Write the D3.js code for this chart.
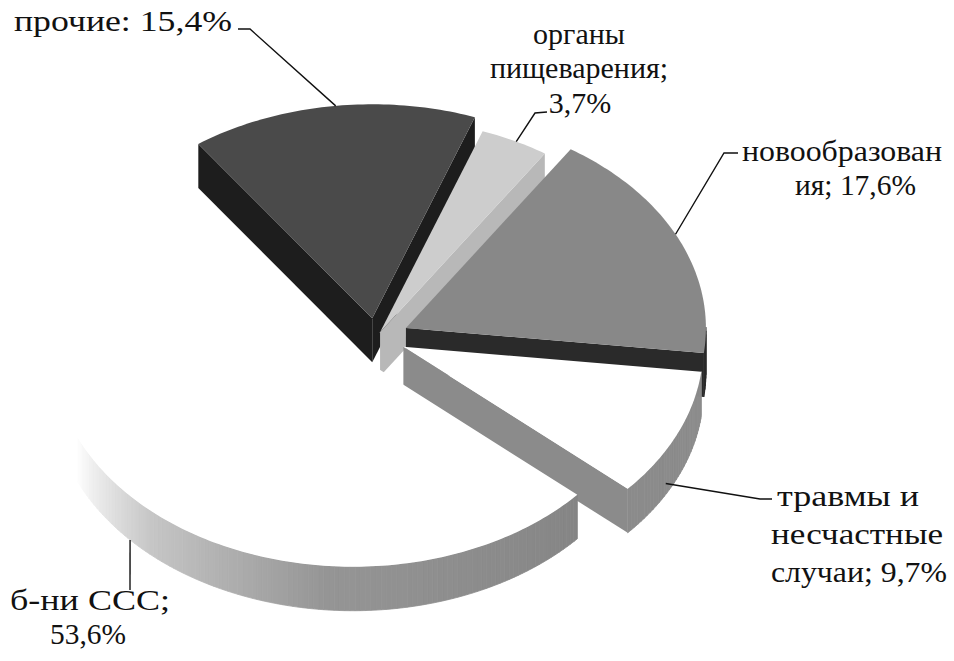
<!DOCTYPE html>
<html><head><meta charset="utf-8">
<script src="https://cdn.jsdelivr.net/npm/d3@7"></script>
<style>body{margin:0;background:#fff}svg{display:block}</style>
</head><body><svg id="c" width="954" height="661"></svg>
<script>
// ---- data ----
const categories = ["органы пищеварения", "новообразования", "травмы и несчастные случаи", "б-ни ССС", "прочие"];
const values = [3.7, 17.6, 9.7, 53.6, 15.4];
const labelLines = [["органы", "пищеварения;", "{v}"], ["новообразован", "ия; {v}"], ["травмы и", "несчастные", "случаи; {v}"], ["б-ни ССС;", "{v}"], ["прочие: {v}"]];

// ---- style / layout ----
const geo = {cx: 376, cy: 338, rx: 300, ry: 214, depth: 44, startDeg: 20};
const explode = [0.03, 0.11, 0.10, 0.103, 0.093];
const topColors = ["#cdcdcd", "#888888", "#ffffff", "#ffffff", "#4a4a4a"];
const sideColors = ["#b8b8b8", "#2a2a2a", "#8b8b8b", null, "#1d1d1d"];
const labelLayout = [
  {lines: [{x: 579, y: 44, a: "middle"}, {x: 579, y: 78, a: "middle"}, {x: 580, y: 113, a: "middle"}], lead: {deg: 27, z: 0}, path: [[547, 112], [535, 113]]},
  {lines: [{x: 742, y: 161, w: 200}, {x: 795, y: 195, w: 121}], lead: {deg: 64, z: 0}, path: [[738, 153], [724, 153]]},
  {lines: [{x: 777, y: 506, w: 142}, {x: 771, y: 544, w: 172}, {x: 771, y: 582, w: 176}], lead: {deg: 119, z: 0.75}, path: [[772, 499], [760, 499]]},
  {lines: [{x: 10, y: 610, w: 160}, {x: 50, y: 644, w: 76}], lead: {deg: 228, z: 1}, path: [[130, 590]]},
  {lines: [{x: 14, y: 31, w: 218}], lead: {deg: 353, z: 0}, path: [[238, 29], [250, 29]]}
];
const fmt = v => v.toFixed(1).replace(".", ",") + "%";

const svg = d3.select("#c");
const xS = d3.scaleLinear().domain([-1, 1]).range([geo.cx - geo.rx, geo.cx + geo.rx]);
const yS = d3.scaleLinear().domain([-1, 1]).range([geo.cy - geo.ry, geo.cy + geo.ry]);
const zS = d3.scaleLinear().domain([0, 1]).range([0, geo.depth]);

const s0 = geo.startDeg * Math.PI / 180;
const arcs = d3.pie().sort(null).value(d => d).startAngle(s0).endAngle(s0 + 2 * Math.PI)(values);

function proj(i, a, r, z) {
  const d = arcs[i], m = (d.startAngle + d.endAngle) / 2, e = explode[i];
  const ux = r * Math.sin(a) + e * Math.sin(m);
  const uy = -r * Math.cos(a) - e * Math.cos(m);
  return [xS(ux), yS(uy) + zS(z)];
}

const sscColor = d3.scaleLinear().domain([131.6, 185, 222, 247]).range(["#858585", "#959595", "#c6c6c6", "#ffffff"]).clamp(true);

const sides = [], tops = [];
const step = Math.PI / 180;
arcs.forEach((d, i) => {
  const a0 = d.startAngle, a1 = d.endAngle;
  const pts = [proj(i, 0, 0, 0)];
  const n = Math.max(2, Math.ceil((a1 - a0) / step));
  for (let k = 0; k <= n; k++) pts.push(proj(i, a0 + (a1 - a0) * k / n, 1, 0));
  tops.push({pts, fill: topColors[i]});
  const cut = (a, normal) => {
    if (Math.cos(normal) < 0) {
      const p = [proj(i, 0, 0, 0), proj(i, a, 1, 0), proj(i, a, 1, 1), proj(i, 0, 0, 1)];
      sides.push({pts: p, fill: sideColors[i] || "#8a8a8a", key: (p[0][1] + p[1][1]) / 2});
    }
  };
  cut(a0, a0 - Math.PI / 2);
  cut(a1, a1 + Math.PI / 2);
  for (let k = 0; k < n; k++) {
    const t1 = a0 + (a1 - a0) * k / n, t2 = a0 + (a1 - a0) * (k + 1) / n, tm = (t1 + t2) / 2;
    if (Math.cos(tm) >= 0) continue;
    const p = [proj(i, t1, 1, 0), proj(i, t2, 1, 0), proj(i, t2, 1, 1), proj(i, t1, 1, 1)];
    const fill = sideColors[i] || sscColor((tm * 180 / Math.PI) % 360);
    sides.push({pts: p, fill, key: (p[0][1] + p[1][1]) / 2, wall: true});
  }
});
sides.sort((a, b) => a.key - b.key);
const line = d3.line();
const g = svg.append("g");
g.selectAll("path.side").data(sides).join("path").attr("class", "side")
  .attr("d", f => line(f.pts) + "Z").attr("fill", f => f.fill)
  .attr("stroke", f => f.wall ? f.fill : "none").attr("stroke-width", 0.8);
g.selectAll("path.top").data(tops).join("path").attr("class", "top")
  .attr("d", f => line(f.pts) + "Z").attr("fill", f => f.fill);

// labels
const lg = svg.append("g").style("font-family", "'Liberation Serif', 'Times New Roman', serif").attr("font-size", 30).attr("fill", "#111");
labelLines.forEach((lines, i) => {
  const L = labelLayout[i];
  lines.forEach((s, k) => {
    const P = L.lines[k];
    const t = lg.append("text").attr("x", P.x).attr("y", P.y).attr("text-anchor", P.a || "start")
      .text(s.replace("{v}", fmt(values[i])));
    if (P.w) t.attr("textLength", P.w).attr("lengthAdjust", "spacingAndGlyphs");
  });
  const end = proj(i, L.lead.deg * Math.PI / 180, 1, L.lead.z);
  svg.append("path").attr("d", d3.line()(L.path.concat([end]))).attr("fill", "none").attr("stroke", "#111").attr("stroke-width", 1.4);
});
</script></body></html>
